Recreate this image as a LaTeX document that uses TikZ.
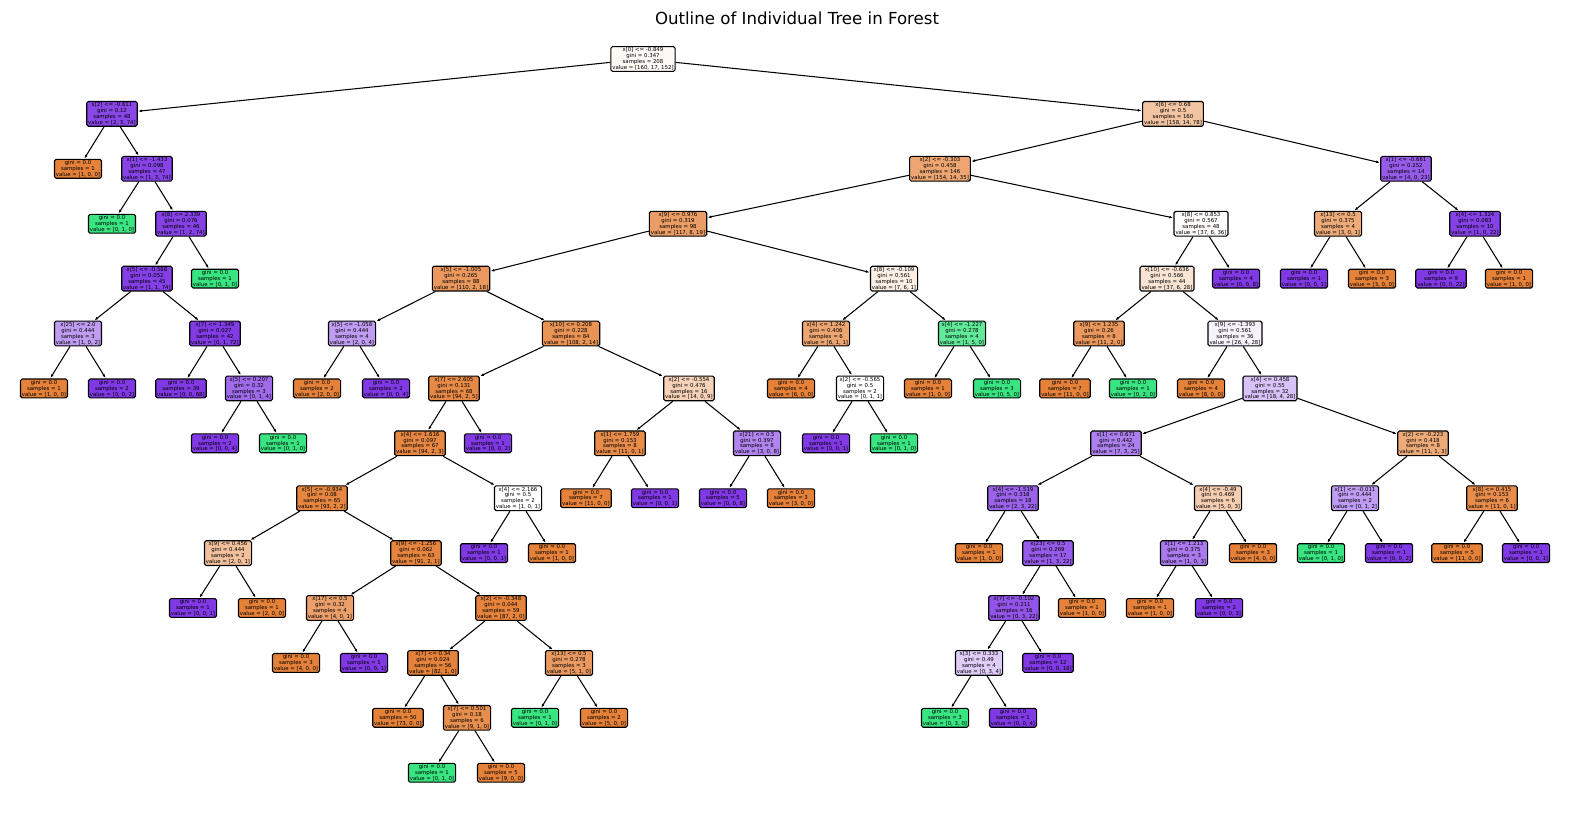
\documentclass[tikz,border=0pt]{standalone}
\usepackage{fontspec}
\setmainfont{DejaVu Sans}
\usetikzlibrary{arrows.meta}
\definecolor{cO}{RGB}{229,129,57}
\definecolor{cG}{RGB}{57,229,129}
\definecolor{cP}{RGB}{129,57,229}
\tikzset{
  tn/.style={draw=black, line width=1.1pt, rounded corners=1.6pt, align=center,
    font=\fontsize{5.4}{5.9}\selectfont, inner xsep=1.5pt, inner ysep=1.1pt},
  ar/.style={-{Latex[length=3.6pt,width=2.8pt]}, line width=1.05pt, shorten >=0.5pt},
  ttl/.style={font=\fontsize{16.6}{19}\selectfont}
}
\newcommand\InN[8]{\node[tn,fill=#4] (#1) at (#2,{59+54.9*(#3)}) {#5\\gini = #6\\samples = #7\\value = [#8]};}
\newcommand\LfN[6]{\node[tn,fill=#4] (#1) at (#2,{59+54.9*(#3)}) {gini = 0.0\\samples = #5\\value = [#6]};}
\newcommand\Ed[2]{\draw[ar] (#1) -- (#2);}
\begin{document}
\begin{tikzpicture}[x=1pt,y=-1pt]
\useasboundingbox[fill=white] (0,0) rectangle (1570,812);
\node[ttl] (title) at (797,18) {Outline of Individual Tree in Forest};
% level 0
\InN{r}{643}{0}{cO!5!white}{x[0] <= -0.849}{0.347}{208}{160, 17, 152}
% level 1
\InN{A}{112}{1}{cP!93!white}{x[2] <= -0.611}{0.12}{48}{2, 3, 74}
\InN{B}{1173}{1}{cO!47!white}{x[6] <= 0.68}{0.5}{160}{158, 14, 78}
% level 2
\LfN{A1}{78}{2}{cO}{1}{1, 0, 0}
\InN{A2}{147}{2}{cP!95!white}{x[1] <= -1.433}{0.098}{47}{1, 3, 74}
\InN{B1}{940}{2}{cO!71!white}{x[2] <= -0.303}{0.458}{146}{154, 14, 35}
\InN{B2}{1406}{2}{cP!83!white}{x[1] <= -0.661}{0.252}{14}{4, 0, 23}
% level 3
\LfN{A21}{112}{3}{cG}{1}{0, 1, 0}
\InN{A22}{181}{3}{cP!96!white}{x[8] <= 2.339}{0.076}{46}{1, 2, 74}
\InN{B11}{678}{3}{cO!78!white}{x[9] <= 0.976}{0.319}{98}{117, 8, 19}
\InN{B12}{1201}{3}{cO!2!white}{x[8] <= 0.853}{0.567}{48}{37, 6, 36}
\InN{B21}{1338}{3}{cO!67!white}{x[13] <= 0.5}{0.375}{4}{3, 0, 1}
\InN{B22}{1475}{3}{cP!96!white}{x[4] <= 1.324}{0.083}{10}{1, 0, 22}
% level 4
\InN{A221}{147}{4}{cP!97!white}{x[5] <= -0.588}{0.052}{45}{1, 1, 74}
\LfN{A222}{215}{4}{cG}{1}{0, 1, 0}
\InN{B111}{461}{4}{cO!82!white}{x[5] <= -1.005}{0.265}{88}{110, 2, 18}
\InN{B112}{894}{4}{cO!13!white}{x[8] <= -0.109}{0.561}{10}{7, 6, 1}
\InN{F1}{1167}{4}{cO!21!white}{x[10] <= -0.636}{0.566}{44}{37, 6, 28}
\LfN{F2}{1236}{4}{cP}{4}{0, 0, 8}
\LfN{B21a}{1304}{4}{cP}{1}{0, 0, 1}
\LfN{B21b}{1372}{4}{cO}{3}{3, 0, 0}
\LfN{B22a}{1441}{4}{cP}{9}{0, 0, 22}
\LfN{B22b}{1509}{4}{cO}{1}{1, 0, 0}
% level 5
\InN{A2211}{78}{5}{cP!50!white}{x[25] <= 2.0}{0.444}{3}{1, 0, 2}
\InN{A2212}{215}{5}{cP!99!white}{x[7] <= 1.349}{0.027}{42}{0, 1, 72}
\InN{B1111}{352}{5}{cP!50!white}{x[5] <= -1.058}{0.444}{4}{2, 0, 4}
\InN{B1112}{571}{5}{cO!86!white}{x[10] <= 0.208}{0.228}{84}{108, 2, 14}
\InN{E1}{826}{5}{cO!71!white}{x[4] <= 1.242}{0.406}{6}{6, 1, 1}
\InN{E2}{962}{5}{cG!80!white}{x[4] <= -1.227}{0.278}{4}{1, 5, 0}
\InN{F11}{1099}{5}{cO!82!white}{x[9] <= 1.235}{0.26}{8}{11, 2, 0}
\InN{F12}{1235}{5}{cP!6!white}{x[9] <= -1.393}{0.561}{36}{26, 4, 28}
% level 6
\LfN{A2211a}{44}{6}{cO}{1}{1, 0, 0}
\LfN{A2211b}{112}{6}{cP}{2}{0, 0, 2}
\LfN{A2212a}{181}{6}{cP}{39}{0, 0, 68}
\InN{A22122}{249}{6}{cP!75!white}{x[5] <= 0.207}{0.32}{3}{0, 1, 4}
\LfN{B1111a}{317}{6}{cO}{2}{2, 0, 0}
\LfN{B1111b}{386}{6}{cP}{2}{0, 0, 4}
\InN{C1}{454}{6}{cO!93!white}{x[7] <= 2.605}{0.131}{68}{94, 2, 5}
\InN{C2}{689}{6}{cO!36!white}{x[2] <= -0.554}{0.476}{16}{14, 0, 9}
\LfN{E1a}{791}{6}{cO}{4}{6, 0, 0}
\InN{E12}{860}{6}{white}{x[2] <= -0.565}{0.5}{2}{0, 1, 1}
\LfN{E2a}{928}{6}{cO}{1}{1, 0, 0}
\LfN{E2b}{997}{6}{cG}{3}{0, 5, 0}
\LfN{F11a}{1065}{6}{cO}{7}{11, 0, 0}
\LfN{F11b}{1133}{6}{cG}{1}{0, 2, 0}
\LfN{F12a}{1201}{6}{cO}{4}{8, 0, 0}
\InN{F122}{1270}{6}{cP!31!white}{x[4] <= 0.458}{0.55}{32}{18, 4, 28}
% level 7
\LfN{A22122a}{215}{7}{cP}{2}{0, 0, 4}
\LfN{A22122b}{283}{7}{cG}{1}{0, 1, 0}
\InN{C11}{420}{7}{cO!95!white}{x[4] <= 1.616}{0.097}{67}{94, 2, 3}
\LfN{C1b}{488}{7}{cP}{1}{0, 0, 2}
\InN{C21}{620}{7}{cO!91!white}{x[1] <= 1.759}{0.153}{8}{11, 0, 1}
\InN{C22}{757}{7}{cP!62!white}{x[21] <= 0.5}{0.397}{8}{3, 0, 8}
\LfN{E12a}{826}{7}{cP}{1}{0, 0, 1}
\LfN{E12b}{894}{7}{cG}{1}{0, 1, 0}
\InN{G1}{1116}{7}{cP!64!white}{x[1] <= 0.671}{0.442}{24}{7, 3, 25}
\InN{G2}{1423}{7}{cO!67!white}{x[2] <= -0.223}{0.418}{8}{11, 1, 3}
% level 8
\InN{C111}{322}{8}{cO!96!white}{x[5] <= -0.934}{0.08}{65}{93, 2, 2}
\InN{C112}{518}{8}{white}{x[4] <= 2.166}{0.5}{2}{1, 0, 1}
\LfN{C21a}{586}{8}{cO}{7}{11, 0, 0}
\LfN{C21b}{655}{8}{cP}{1}{0, 0, 1}
\LfN{C22a}{723}{8}{cP}{5}{0, 0, 8}
\LfN{C22b}{791}{8}{cO}{3}{3, 0, 0}
\InN{G11}{1013}{8}{cP!79!white}{x[4] <= -1.519}{0.318}{18}{2, 3, 22}
\InN{G12}{1218}{8}{cO!40!white}{x[4] <= -0.49}{0.469}{6}{5, 0, 3}
\InN{G21}{1355}{8}{cP!50!white}{x[1] <= -0.011}{0.444}{2}{0, 1, 2}
\InN{G22}{1492}{8}{cO!91!white}{x[8] <= 0.415}{0.153}{6}{11, 0, 1}
% level 9
\InN{C1111}{228}{9}{cO!50!white}{x[9] <= 0.456}{0.444}{2}{2, 0, 1}
\InN{C1112}{416}{9}{cO!97!white}{x[9] <= -1.256}{0.062}{63}{91, 2, 1}
\LfN{C112a}{484}{9}{cP}{1}{0, 0, 1}
\LfN{C112b}{552}{9}{cO}{1}{1, 0, 0}
\LfN{G11a}{979}{9}{cO}{1}{1, 0, 0}
\InN{G112}{1048}{9}{cP!83!white}{x[23] <= 0.5}{0.269}{17}{1, 3, 22}
\InN{G121}{1184}{9}{cP!67!white}{x[1] <= 1.213}{0.375}{3}{1, 0, 3}
\LfN{G12b}{1253}{9}{cO}{3}{4, 0, 0}
\LfN{G21a}{1321}{9}{cG}{1}{0, 1, 0}
\LfN{G21b}{1389}{9}{cP}{1}{0, 0, 2}
\LfN{G22a}{1457}{9}{cO}{5}{11, 0, 0}
\LfN{G22b}{1526}{9}{cP}{1}{0, 0, 1}
% level 10
\LfN{C1111a}{193}{10}{cP}{1}{0, 0, 1}
\LfN{C1111b}{262}{10}{cO}{1}{2, 0, 0}
\InN{C11121}{330}{10}{cO!75!white}{x[17] <= 0.5}{0.32}{4}{4, 0, 1}
\InN{C11122}{501}{10}{cO!98!white}{x[2] <= -0.348}{0.044}{59}{87, 2, 0}
\InN{G1121}{1014}{10}{cP!86!white}{x[7] <= -0.102}{0.211}{16}{0, 3, 22}
\LfN{G112b}{1082}{10}{cO}{1}{1, 0, 0}
\LfN{G121a}{1150}{10}{cO}{1}{1, 0, 0}
\LfN{G121b}{1219}{10}{cP}{2}{0, 0, 3}
% level 11
\LfN{C11121a}{296}{11}{cO}{3}{4, 0, 0}
\LfN{C11121b}{364}{11}{cP}{1}{0, 0, 1}
\InN{D1}{433}{11}{cO!99!white}{x[7] <= 0.34}{0.024}{56}{82, 1, 0}
\InN{D2}{569}{11}{cO!80!white}{x[13] <= 0.5}{0.278}{3}{5, 1, 0}
\InN{G11211}{979}{11}{cP!25!white}{x[3] <= 0.333}{0.49}{4}{0, 3, 4}
\LfN{G1121b}{1048}{11}{cP}{12}{0, 0, 18}
% level 12
\LfN{D1a}{398}{12}{cO}{50}{73, 0, 0}
\InN{D12}{467}{12}{cO!89!white}{x[7] <= 0.501}{0.18}{6}{9, 1, 0}
\LfN{D2a}{535}{12}{cG}{1}{0, 1, 0}
\LfN{D2b}{604}{12}{cO}{2}{5, 0, 0}
\LfN{G11211a}{945}{12}{cG}{3}{0, 3, 0}
\LfN{G11211b}{1013}{12}{cP}{1}{0, 0, 4}
% level 13
\LfN{D12a}{432}{13}{cG}{1}{0, 1, 0}
\LfN{D12b}{501}{13}{cO}{5}{9, 0, 0}
% edges
\Ed{r}{A}\Ed{r}{B}
\Ed{A}{A1}\Ed{A}{A2}
\Ed{A2}{A21}\Ed{A2}{A22}
\Ed{A22}{A221}\Ed{A22}{A222}
\Ed{A221}{A2211}\Ed{A221}{A2212}
\Ed{A2211}{A2211a}\Ed{A2211}{A2211b}
\Ed{A2212}{A2212a}\Ed{A2212}{A22122}
\Ed{A22122}{A22122a}\Ed{A22122}{A22122b}
\Ed{B}{B1}\Ed{B}{B2}
\Ed{B2}{B21}\Ed{B2}{B22}
\Ed{B21}{B21a}\Ed{B21}{B21b}
\Ed{B22}{B22a}\Ed{B22}{B22b}
\Ed{B1}{B11}\Ed{B1}{B12}
\Ed{B11}{B111}\Ed{B11}{B112}
\Ed{B111}{B1111}\Ed{B111}{B1112}
\Ed{B1111}{B1111a}\Ed{B1111}{B1111b}
\Ed{B1112}{C1}\Ed{B1112}{C2}
\Ed{C1}{C11}\Ed{C1}{C1b}
\Ed{C11}{C111}\Ed{C11}{C112}
\Ed{C111}{C1111}\Ed{C111}{C1112}
\Ed{C1111}{C1111a}\Ed{C1111}{C1111b}
\Ed{C112}{C112a}\Ed{C112}{C112b}
\Ed{C1112}{C11121}\Ed{C1112}{C11122}
\Ed{C11121}{C11121a}\Ed{C11121}{C11121b}
\Ed{C11122}{D1}\Ed{C11122}{D2}
\Ed{D1}{D1a}\Ed{D1}{D12}
\Ed{D12}{D12a}\Ed{D12}{D12b}
\Ed{D2}{D2a}\Ed{D2}{D2b}
\Ed{C2}{C21}\Ed{C2}{C22}
\Ed{C21}{C21a}\Ed{C21}{C21b}
\Ed{C22}{C22a}\Ed{C22}{C22b}
\Ed{B112}{E1}\Ed{B112}{E2}
\Ed{E1}{E1a}\Ed{E1}{E12}
\Ed{E12}{E12a}\Ed{E12}{E12b}
\Ed{E2}{E2a}\Ed{E2}{E2b}
\Ed{B12}{F1}\Ed{B12}{F2}
\Ed{F1}{F11}\Ed{F1}{F12}
\Ed{F11}{F11a}\Ed{F11}{F11b}
\Ed{F12}{F12a}\Ed{F12}{F122}
\Ed{F122}{G1}\Ed{F122}{G2}
\Ed{G1}{G11}\Ed{G1}{G12}
\Ed{G11}{G11a}\Ed{G11}{G112}
\Ed{G112}{G1121}\Ed{G112}{G112b}
\Ed{G1121}{G11211}\Ed{G1121}{G1121b}
\Ed{G11211}{G11211a}\Ed{G11211}{G11211b}
\Ed{G12}{G121}\Ed{G12}{G12b}
\Ed{G121}{G121a}\Ed{G121}{G121b}
\Ed{G2}{G21}\Ed{G2}{G22}
\Ed{G21}{G21a}\Ed{G21}{G21b}
\Ed{G22}{G22a}\Ed{G22}{G22b}
\end{tikzpicture}
\end{document}
